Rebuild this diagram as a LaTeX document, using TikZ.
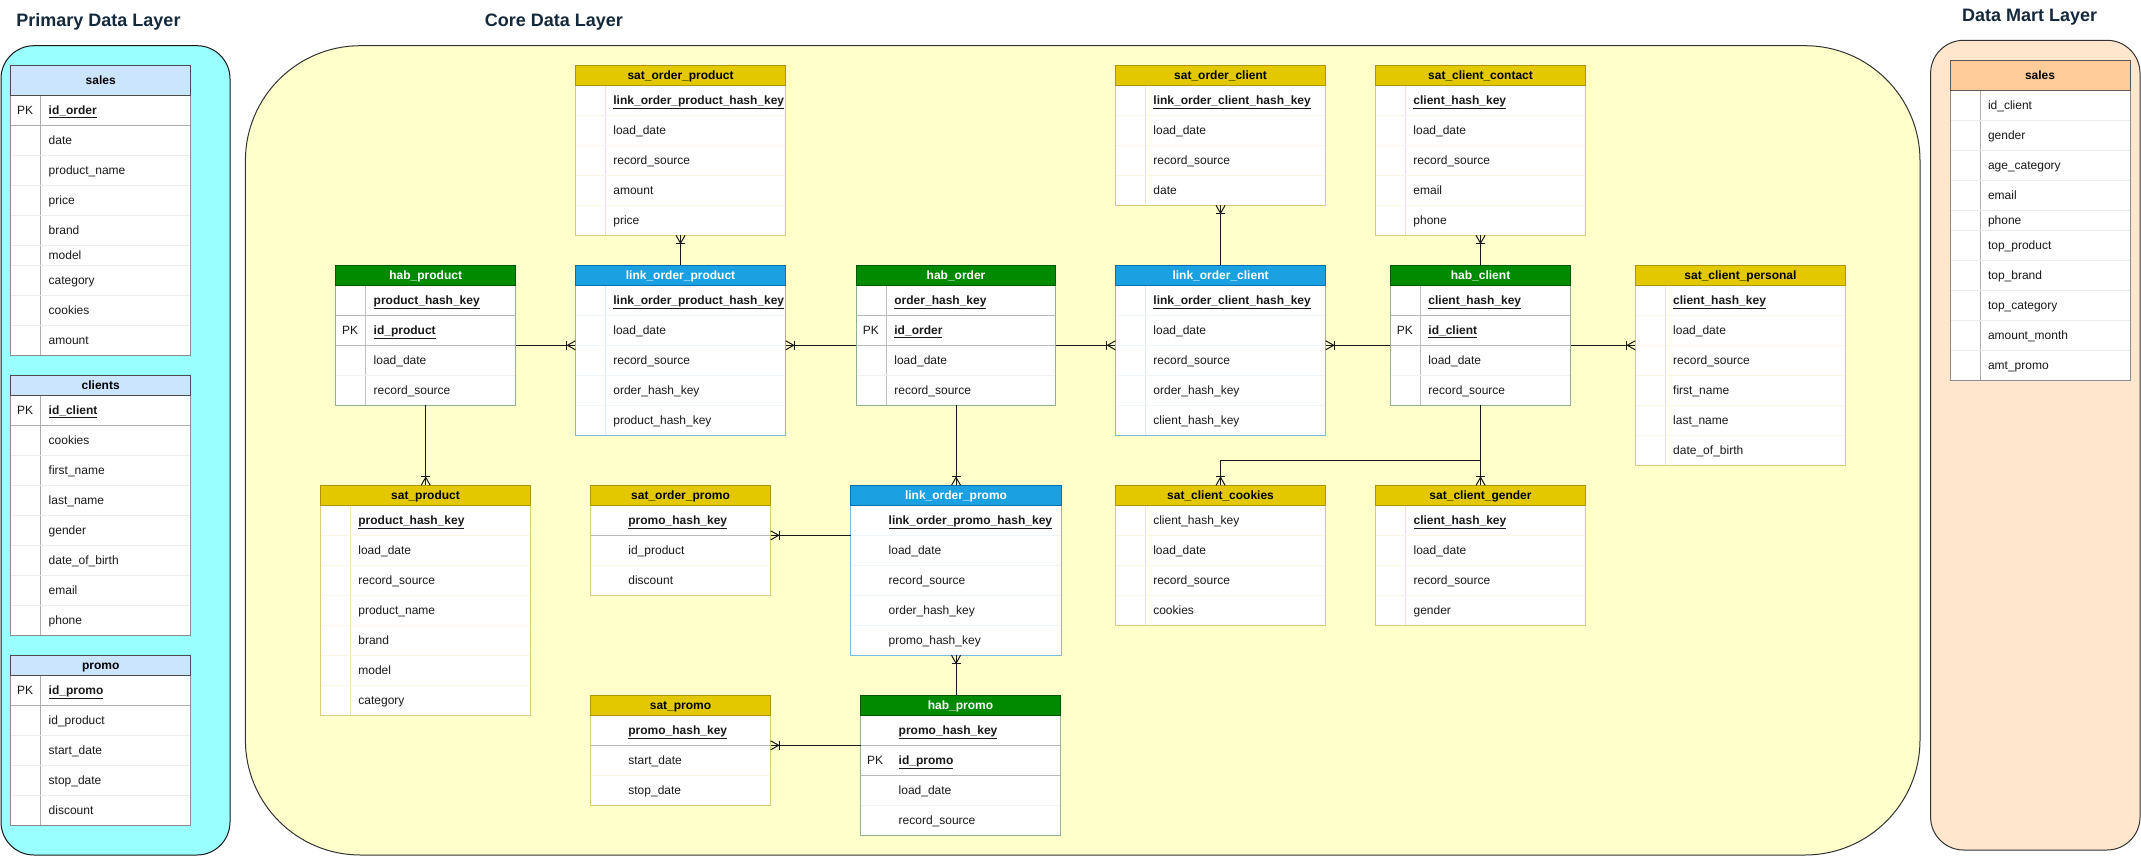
\documentclass[tikz,border=0pt]{standalone}
\usepackage{fontspec}
\setmainfont{Liberation Sans}
\usetikzlibrary{calc}

\definecolor{cyanbg}{HTML}{99FFFF}
\definecolor{corebg}{HTML}{FFFFCC}
\definecolor{martbg}{HTML}{FFE6CC}
\definecolor{titlec}{HTML}{14293B}
\definecolor{primh}{HTML}{CCE5FF}
\definecolor{marth}{HTML}{FFCC99}
\definecolor{habh}{HTML}{008A00}
\definecolor{habs}{HTML}{005700}
\definecolor{habb}{HTML}{8FB38F}
\definecolor{linkh}{HTML}{1BA1E2}
\definecolor{links}{HTML}{006EAF}
\definecolor{linkb}{HTML}{7DB7E3}
\definecolor{linkv}{HTML}{DCEBF7}
\definecolor{linkf}{HTML}{EEF5FB}
\definecolor{sath}{HTML}{E3C800}
\definecolor{sats}{HTML}{B09500}
\definecolor{satb}{HTML}{D9CB7A}
\definecolor{satv}{HTML}{F0E7B5}
\definecolor{satf}{HTML}{FBF7E4}

\def\nopk{-}
\newcommand\keyf[1]{\textbf{\underline{#1}}}

\tikzset{
  hdrbase/.style={anchor=north west, inner sep=0pt, outer sep=0pt, line width=1pt,
     font=\fontsize{12}{14}\selectfont\bfseries, text height=9pt, text depth=1pt},
  rowtext/.style={anchor=west, inner sep=0pt, outer sep=0pt,
     font=\fontsize{12}{14}\selectfont, text=black!90, text height=9pt, text depth=1pt},
  conn/.style={draw=black!90, line width=1pt},
  layer/.style={line width=1pt},
  layertitle/.style={font=\fontsize{18}{22}\selectfont\bfseries, text=titlec, inner sep=0pt},
}

% kind: hdr style, border, vline, strong div, faint div
\newcommand\defkind[6]{%
 \tikzset{
  #1 hdr/.style={hdrbase,#2},
  #1 border/.style={draw=#3, line width=1pt},
  #1 vline/.style={draw=#4, line width=1pt},
  #1 divs/.style={draw=#5, line width=1pt},
  #1 divf/.style={draw=#6, line width=1pt},
  #1 divn/.style={draw=none},
  #1 row/.style={rowtext}}}

\defkind{prim}{fill=primh, draw=black!70, text=black}{black!45}{black!32}{black!32}{black!7}
\defkind{mart}{fill=marth, draw=black!65, text=black}{black!45}{black!32}{black!10}{black!8}
\defkind{hab}{fill=habh, draw=habs, text=white}{habb}{black!25}{black!28}{black!5}
\defkind{habx}{fill=habh, draw=habs, text=white}{habb}{none}{black!28}{black!5}
\defkind{link}{fill=linkh, draw=links, text=white}{linkb}{linkv}{black!28}{linkf}
\defkind{linkx}{fill=linkh, draw=links, text=white}{linkb}{none}{black!28}{linkf}
\defkind{sat}{fill=sath, draw=sats, text=black}{satb}{satv}{black!28}{satf}
\defkind{satx}{fill=sath, draw=sats, text=black}{satb}{none}{black!28}{satf}

% #1 name #2 xl #3 xr #4 ytop #5 ybot #6 header height #7 kind #8 title #9 rows
\newcommand\ertable[9]{%
  \node[fill=white, draw=none, anchor=north west, inner sep=0pt, outer sep=0pt,
        minimum width={(#3-#2)*1pt}, minimum height={(#5-#4)*1pt}] (#1) at (#2,#4) {};
  \draw[#7 vline] (#2+30,#4+#6) -- (#2+30,#5);
  \pgfmathsetmacro\ystart{#4+#6}%
  \xdef\ycur{\ystart}%
  \foreach \rh/\rtx/\rdv/\rpk [count=\ri] in {#9} {%
    \pgfmathsetmacro\yc{\ycur+\rh/2}%
    \pgfmathsetmacro\yn{\ycur+\rh}%
    \edef\mydiv{\noexpand\draw[#7 div\rdv]}%
    \mydiv (#2,\yn) -- (#3,\yn);
    \coordinate (#1-b\ri) at (#2,\yn);
    \node[#7 row] (#1-\ri) at (#2+38,\yc) {\rtx};
    \edef\curpk{\rpk}%
    \ifx\curpk\nopk\else\node[#7 row] (#1-k\ri) at (#2+6.5,\yc) {\rpk};\fi
    \xdef\ycur{\yn}%
  }
  \draw[#7 border] (#1.north west) rectangle (#1.south east);
  \node[#7 hdr, minimum width={(#3-#2)*1pt}, minimum height={#6*1pt}] (#1-h) at (#2,#4) {#8};
}

\newcommand\crow[2]{%
  \begin{scope}[shift={(#1)}, rotate=#2]
    \draw[conn] (0,-4.5) -- (8,0) -- (0,4.5);
    \draw[conn] (8.5,-4.5) -- (8.5,4.5);
  \end{scope}}

\begin{document}
\begin{tikzpicture}[x=1pt,y=-1pt]
\useasboundingbox (0,0) rectangle (2141,856);
\fill[white] (0,0) rectangle (2141,856);

% layers
\draw[layer, fill=cyanbg, draw=black!90, rounded corners=33pt] (1,45.7) rectangle (230,855);
\draw[layer, fill=corebg, draw=black!80, rounded corners=115pt] (245.4,45.7) rectangle (1920,855);
\draw[layer, fill=martbg, draw=black!80, rounded corners=33pt] (1930.6,40.3) rectangle (2140,850);

\node[layertitle] (tprim) at (98.5,22) {Primary Data Layer};
\node[layertitle] (tcore) at (554,22) {Core Data Layer};
\node[layertitle] (tmart) at (2029.6,17) {Data Mart Layer};

% primary layer
\ertable{psales}{10.7}{190.7}{65.7}{355.7}{30}{prim}{sales}{30/\keyf{id\_order}/s/PK, 30/date/f/-, 30/product\_name/f/-, 30/price/f/-, 30/brand/f/-, 20/model/f/-, 30/category/f/-, 30/cookies/f/-, 30/amount/n/-}
\ertable{pclients}{10.7}{190.7}{375.7}{635.7}{20}{prim}{clients}{30/\keyf{id\_client}/s/PK, 30/cookies/f/-, 30/first\_name/f/-, 30/last\_name/f/-, 30/gender/f/-, 30/date\_of\_birth/f/-, 30/email/f/-, 30/phone/n/-}
\ertable{ppromo}{10.7}{190.7}{655.7}{825.7}{20}{prim}{promo}{30/\keyf{id\_promo}/s/PK, 30/id\_product/f/-, 30/start\_date/f/-, 30/stop\_date/f/-, 30/discount/n/-}

% core layer
\ertable{hprod}{335.7}{515.7}{265.3}{405.3}{20}{hab}{hab\_product}{30/\keyf{product\_hash\_key}/s/-, 30/\keyf{id\_product}/s/PK, 30/load\_date/f/-, 30/record\_source/n/-}
\ertable{sprod}{320.4}{530.7}{485.3}{715.3}{20}{sat}{sat\_product}{30/\keyf{product\_hash\_key}/f/-, 30/load\_date/f/-, 30/record\_source/f/-, 30/product\_name/f/-, 30/brand/f/-, 30/model/f/-, 30/category/n/-}
\ertable{sop}{575.4}{785.7}{65.3}{235.3}{20}{sat}{sat\_order\_product}{30/\keyf{link\_order\_product\_hash\_key}/f/-, 30/load\_date/f/-, 30/record\_source/f/-, 30/amount/f/-, 30/price/n/-}
\ertable{lop}{575.4}{785.7}{265.3}{435.3}{20}{link}{link\_order\_product}{30/\keyf{link\_order\_product\_hash\_key}/f/-, 30/load\_date/f/-, 30/record\_source/f/-, 30/order\_hash\_key/f/-, 30/product\_hash\_key/n/-}
\ertable{hord}{856.4}{1055.7}{265.3}{405.3}{20}{hab}{hab\_order}{30/\keyf{order\_hash\_key}/s/-, 30/\keyf{id\_order}/s/PK, 30/load\_date/f/-, 30/record\_source/n/-}
\ertable{soc}{1115.4}{1325.7}{65.3}{205.3}{20}{sat}{sat\_order\_client}{30/\keyf{link\_order\_client\_hash\_key}/f/-, 30/load\_date/f/-, 30/record\_source/f/-, 30/date/n/-}
\ertable{scc}{1375.4}{1585.7}{65.3}{235.3}{20}{sat}{sat\_client\_contact}{30/\keyf{client\_hash\_key}/f/-, 30/load\_date/f/-, 30/record\_source/f/-, 30/email/f/-, 30/phone/n/-}
\ertable{loc}{1115.4}{1325.7}{265.3}{435.3}{20}{link}{link\_order\_client}{30/\keyf{link\_order\_client\_hash\_key}/f/-, 30/load\_date/f/-, 30/record\_source/f/-, 30/order\_hash\_key/f/-, 30/client\_hash\_key/n/-}
\ertable{hcli}{1390.4}{1570.7}{265.3}{405.3}{20}{hab}{hab\_client}{30/\keyf{client\_hash\_key}/s/-, 30/\keyf{id\_client}/s/PK, 30/load\_date/f/-, 30/record\_source/n/-}
\ertable{scp}{1635.2}{1845.7}{265.3}{465.3}{20}{sat}{sat\_client\_personal}{30/\keyf{client\_hash\_key}/f/-, 30/load\_date/f/-, 30/record\_source/f/-, 30/first\_name/f/-, 30/last\_name/f/-, 30/date\_of\_birth/n/-}
\ertable{sopr}{590.4}{770.7}{485.3}{595.3}{20}{satx}{sat\_order\_promo}{30/\keyf{promo\_hash\_key}/s/-, 30/id\_product/f/-, 30/discount/n/-}
\ertable{lopr}{850.7}{1061.4}{485.3}{655.3}{20}{linkx}{link\_order\_promo}{30/\keyf{link\_order\_promo\_hash\_key}/f/-, 30/load\_date/f/-, 30/record\_source/f/-, 30/order\_hash\_key/f/-, 30/promo\_hash\_key/n/-}
\ertable{scook}{1115.3}{1325.8}{485.3}{625.3}{20}{sat}{sat\_client\_cookies}{30/client\_hash\_key/f/-, 30/load\_date/f/-, 30/record\_source/f/-, 30/cookies/n/-}
\ertable{sgend}{1375.6}{1585.4}{485.3}{625.3}{20}{sat}{sat\_client\_gender}{30/\keyf{client\_hash\_key}/f/-, 30/load\_date/f/-, 30/record\_source/f/-, 30/gender/n/-}
\ertable{spromo}{590.4}{770.7}{695.3}{805.3}{20}{satx}{sat\_promo}{30/\keyf{promo\_hash\_key}/s/-, 30/start\_date/f/-, 30/stop\_date/n/-}
\ertable{hpromo}{860.7}{1060.4}{695.3}{835.3}{20}{habx}{hab\_promo}{30/\keyf{promo\_hash\_key}/s/-, 30/\keyf{id\_promo}/s/PK, 30/load\_date/f/-, 30/record\_source/n/-}

% data mart layer
\ertable{msales}{1950}{2130}{60.3}{380.3}{30}{mart}{sales}{30/id\_client/f/-, 30/gender/f/-, 30/age\_category/f/-, 30/email/f/-, 20/phone/f/-, 30/top\_product/f/-, 30/top\_brand/f/-, 30/top\_category/f/-, 30/amount\_month/f/-, 30/amt\_promo/n/-}

% connectors
\draw[conn] (hprod.east |- hprod-b2) -- (lop.west |- hprod-b2);
\crow{lop.west |- hprod-b2}{180}
\draw[conn] (hprod.south) -- (hprod.south |- sprod.north);
\crow{hprod.south |- sprod.north}{90}
\draw[conn] (lop.north) -- (sop.south);
\crow{sop.south}{-90}
\draw[conn] (hord.west |- hord-b2) -- (lop.east |- hord-b2);
\crow{lop.east |- hord-b2}{0}
\draw[conn] (hord.east |- hord-b2) -- (loc.west |- hord-b2);
\crow{loc.west |- hord-b2}{180}
\draw[conn] (loc.north) -- (soc.south);
\crow{soc.south}{-90}
\draw[conn] (hcli.west |- hcli-b2) -- (loc.east |- hcli-b2);
\crow{loc.east |- hcli-b2}{0}
\draw[conn] (hcli.north) -- (hcli.north |- scc.south);
\crow{hcli.north |- scc.south}{-90}
\draw[conn] (hcli.east |- hcli-b2) -- (scp.west |- hcli-b2);
\crow{scp.west |- hcli-b2}{180}
\draw[conn] (scook.north) -- ++(0,-25) -| (hcli.south);
\crow{scook.north}{90}
\draw[conn] (hcli.south) -- (hcli.south |- sgend.north);
\crow{hcli.south |- sgend.north}{90}
\draw[conn] (hord.south) -- (hord.south |- lopr.north);
\crow{hord.south |- lopr.north}{90}
\draw[conn] (hpromo.north -| lopr.south) -- (lopr.south);
\crow{lopr.south}{-90}
\draw[conn] (lopr.west |- lopr-b1) -- (sopr.east |- lopr-b1);
\crow{sopr.east |- lopr-b1}{0}
\draw[conn] (hpromo.west |- hpromo-b1) -- (spromo.east |- hpromo-b1);
\crow{spromo.east |- hpromo-b1}{0}
\end{tikzpicture}
\end{document}
